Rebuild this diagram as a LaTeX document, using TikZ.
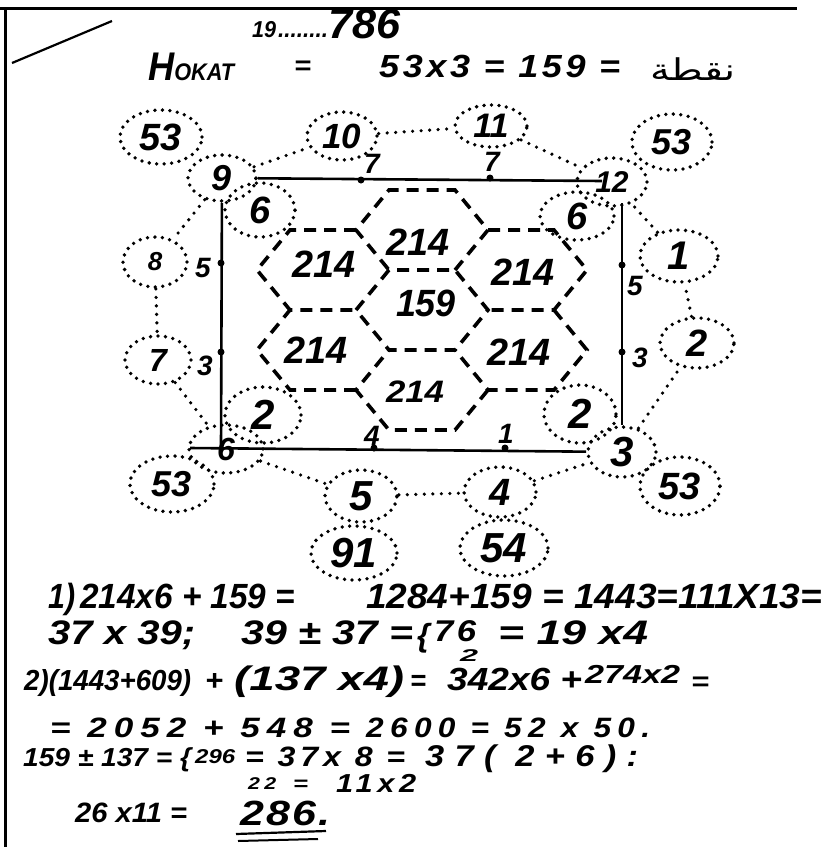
\documentclass[tikz,border=0pt]{standalone}
\usepackage{fontspec}
\usepackage{graphicx}
\newfontfamily\handfont{Liberation Sans}
\newfontfamily\arabicfont[Script=Arabic]{DejaVu Sans}
\TeXXeTstate=1
\usetikzlibrary{shapes.geometric}
\newcommand\hand[1]{\handfont\fontsize{#1}{#1}\selectfont\bfseries\itshape}
\newcommand\fitw[3]{\resizebox{#1pt}{\height}{\hand{#2}#3}}
\newcommand\fitsp[4]{\resizebox{#1pt}{\height}{\hand{#2}\addfontfeature{LetterSpace=#3}#4}}
\newcommand\ringnode[7]{\node[ring, minimum width=#4pt, minimum height=#5pt, font=\hand{#7}] (#1) at (#2,#3) {#6};}
\begin{document}
\begin{tikzpicture}[x=1pt,y=-1pt,
  ring/.style={ellipse, draw, line width=3.8pt, dash pattern=on 0pt off 7.5pt, line cap=round, inner sep=0pt},
  dotline/.style={line width=3.6pt, dash pattern=on 0pt off 8.5pt, line cap=round},
  hexline/.style={line width=3.6pt, dash pattern=on 12pt off 8pt},
  sideline/.style={line width=2.6pt},
  frameline/.style={line width=3pt},
  mk/.style={circle, fill, inner sep=0pt, minimum size=7pt},
  lab/.style={inner sep=0pt, font=\hand{28}},
  txt/.style={inner sep=0pt, anchor=base west}]
\useasboundingbox (0,0) rectangle (834,847);

% frame
\coordinate (f1) at (0,8);
\coordinate (f2) at (797,8);
\coordinate (f3) at (5,8);
\coordinate (f4) at (5,847);
\draw[frameline] (f1) -- (f2);
\draw[frameline] (f3) -- (f4);
\coordinate (dg1) at (12,63);
\coordinate (dg2) at (112,21);
\draw[line width=2.2pt] (dg1) -- (dg2);

% header
\node[txt] (h19) at (252,37) {\fitw{24}{23}{19}};
\node[txt] (hdots) at (278,37) {\fitw{50}{24}{........}};
\node[txt] (h786) at (328,38) {\fitw{72}{42}{786}};
\node[txt] (hokat) at (148,80) {\resizebox{86pt}{\height}{\hand{40}H\hand{24}OKAT}};
\node[txt] (heq) at (294,74) {\fitw{17}{26}{=}};
\node[txt] (hcalc) at (379,77) {\fitsp{241}{32}{10}{53x3 = 159 =}};
\node[txt] (harab) at (650,80) {\resizebox{85pt}{\height}{\arabicfont\fontsize{30}{30}\selectfont\beginR نقطة\endR}};

% rings
\ringnode{c53a}{161}{137}{82}{54}{53}{38}
\ringnode{c10}{342}{136}{70}{48}{10}{35}
\ringnode{c11}{491}{126}{72}{42}{11}{34}
\ringnode{c53b}{672}{142}{80}{56}{53}{36}
\ringnode{c9}{222}{178}{68}{46}{9}{36}
\ringnode{c12}{612}{182}{70}{48}{12}{30}
\ringnode{c6a}{260}{210}{70}{54}{6}{38}
\ringnode{c6b}{577}{216}{74}{48}{6}{38}
\ringnode{c8}{155}{262}{64}{50}{8}{26}
\ringnode{c1}{679}{256}{78}{52}{1}{40}
\ringnode{c7}{158}{360}{66}{48}{7}{32}
\ringnode{c2a}{697}{343}{74}{50}{2}{38}
\ringnode{c2b}{263}{415}{76}{56}{2}{42}
\ringnode{c2c}{580}{414}{72}{58}{2}{42}
\ringnode{c6c}{226}{449}{74}{48}{6}{32}
\ringnode{c3}{622}{452}{68}{50}{3}{42}
\ringnode{c53c}{172}{484}{84}{56}{53}{36}
\ringnode{c53d}{680}{486}{80}{58}{53}{38}
\ringnode{c5}{361}{496}{72}{52}{5}{42}
\ringnode{c4}{500}{492}{72}{50}{4}{38}
\ringnode{c91}{354}{553}{86}{54}{91}{42}
\ringnode{c54}{504}{548}{88}{56}{54}{42}

% dotted ring connections
\draw[dotline] (c9) -- (c10);
\draw[dotline] (c10) -- (c11);
\draw[dotline] (c11) -- (c12);
\draw[dotline] (c9) -- (c8);
\draw[dotline] (c8) -- (c7);
\draw[dotline] (c7) -- (c6c);
\draw[dotline] (c6c) -- (c5);
\draw[dotline] (c5) -- (c4);
\draw[dotline] (c4) -- (c3);
\draw[dotline] (c3) -- (c2a);
\draw[dotline] (c2a) -- (c1);
\draw[dotline] (c1) -- (c12);

% solid rectangle
\coordinate (tr) at (602,181);
\coordinate (lb) at (221,448);
\coordinate (rt) at (622,203);
\coordinate (bl) at (190,448);
\draw[sideline] (c9) -- (tr);
\draw[sideline] (c9) -- (lb);
\draw[sideline] (rt) -- (c3);
\draw[sideline] (bl) -- (c3);

\node[mk] (m1) at (361,180) {};
\node[mk] (m2) at (490,178) {};
\node[mk] (m3) at (221,263) {};
\node[mk] (m4) at (221,352) {};
\node[mk] (m5) at (622,265) {};
\node[mk] (m6) at (622,352) {};
\node[mk] (m7) at (374,448) {};
\node[mk] (m8) at (505,448) {};
\node[lab] (l1) at (372,164) {7};
\node[lab] (l2) at (492,162) {7};
\node[lab] (l3) at (203,268) {5};
\node[lab] (l4) at (205,366) {3};
\node[lab] (l5) at (635,286) {5};
\node[lab] (l6) at (640,358) {3};
\node[lab] (l7) at (372,436) {4};
\node[lab] (l8) at (506,434) {1};

% hexagons
\draw[hexline] (356,310) -- (389,270) -- (455,270) -- (488,310) -- (455,350) -- (389,350) -- cycle;
\draw[hexline] (455,270) -- (488,230) -- (455,190) -- (389,190) -- (356,230) -- (389,270);
\draw[hexline] (488,230) -- (554,230) -- (587,270) -- (554,310) -- (488,310);
\draw[hexline] (554,310) -- (587,350) -- (554,390) -- (488,390) -- (455,350);
\draw[hexline] (488,390) -- (455,430) -- (389,430) -- (356,390) -- (389,350);
\draw[hexline] (356,390) -- (290,390) -- (257,350) -- (290,310) -- (356,310);
\draw[hexline] (356,230) -- (290,230) -- (257,270) -- (290,310);

\node[inner sep=0pt] (x1) at (418,242) {\fitw{63}{38}{214}};
\node[inner sep=0pt] (x2) at (324,264) {\fitw{63}{38}{214}};
\node[inner sep=0pt] (x3) at (523,272) {\fitw{63}{38}{214}};
\node[inner sep=0pt] (x4) at (426,303) {\fitw{60}{38}{159}};
\node[inner sep=0pt] (x5) at (316,350) {\fitw{63}{38}{214}};
\node[inner sep=0pt] (x6) at (519,352) {\fitw{63}{38}{214}};
\node[inner sep=0pt] (x7) at (415,392) {\fitw{58}{31}{214}};

% text lines
\node[txt] (a1) at (48,608) {\fitw{27}{35}{1)}};
\node[txt] (a2) at (80,608) {\fitw{215}{35}{214x6 + 159 =}};
\node[txt] (a3) at (366,608) {\fitw{456}{35}{1284+159 = 1443=111X13=}};

\node[txt] (b1) at (48,644) {\fitw{147}{34}{37 x 39;}};
\node[txt] (b2) at (241,644) {\fitw{172}{34}{39 ± 37 =}};
\node[txt] (b3) at (417,646) {\hand{32}\{};
\node[txt] (b4) at (434,641) {\fitsp{42}{30}{10}{76}};
\node[txt] (b5) at (460,661) {\fitw{18}{17}{2}};
\node[txt] (b6) at (498,644) {\fitw{150}{34}{= 19 x4}};

\node[txt] (c1t) at (24,690) {\fitw{167}{29}{2)(1443+609)}};
\node[txt] (c2t) at (205,690) {\fitw{18}{29}{+}};
\node[txt] (c3t) at (234,690) {\fitw{170}{34}{(137 x4)}};
\node[txt] (c4t) at (410,690) {\fitw{16}{29}{=}};
\node[txt] (c5t) at (447,690) {\fitw{135}{32}{342x6 +}};
\node[txt] (c6t) at (585,683) {\fitw{95}{26}{274x2}};
\node[txt] (c7t) at (691,690) {\fitw{18}{26}{=}};

\node[txt] (d1) at (50,737) {\fitsp{300}{28}{20}{= 2052 + 548 =}};
\node[txt] (d2) at (366,737) {\fitsp{284}{28}{20}{2600 = 52 x 50.}};

\node[txt] (e1) at (23,766) {\fitw{168}{26}{159 ± 137 = \{}};
\node[txt] (e2) at (195,763) {\fitw{40}{20}{296}};
\node[txt] (e3) at (245,766) {\fitsp{160}{28}{15}{= 37x 8 =}};
\node[txt] (e4) at (425,766) {\fitsp{213}{30}{30}{37( 2+6):}};

\node[txt] (g1) at (248,789) {\fitsp{28}{17}{20}{22}};
\node[txt] (g2) at (293,790) {\fitw{15}{20}{=}};
\node[txt] (g3) at (336,792) {\fitsp{80}{26}{15}{11x2}};

\node[txt] (k1) at (75,822) {\fitw{112}{28}{26 x11 =}};
\node[txt] (k2) at (240,825) {\fitsp{90}{35}{5}{286.}};
\coordinate (u1) at (236,834);
\coordinate (u2) at (326,831);
\coordinate (u3) at (238,841);
\coordinate (u4) at (318,839);
\draw[line width=2.2pt] (u1) -- (u2);
\draw[line width=2pt] (u3) -- (u4);
\end{tikzpicture}
\end{document}
